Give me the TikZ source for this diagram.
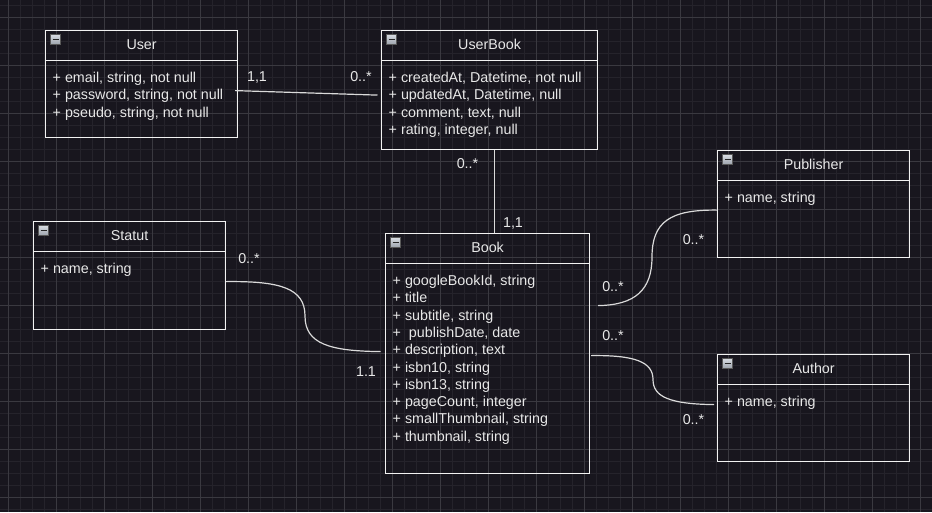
\documentclass[tikz,border=0pt]{standalone}
\usepackage{fontspec}
\setmainfont{Liberation Sans}
\usetikzlibrary{calc}
\definecolor{bgc}{HTML}{18161E}
\definecolor{gridminor}{HTML}{25232B}
\definecolor{gridmajor}{HTML}{3A3940}
\definecolor{boxline}{HTML}{F2F2F2}
\definecolor{txt}{HTML}{E8E8E8}
\definecolor{edgec}{HTML}{DADADA}
\definecolor{icontop}{HTML}{D8DCE2}
\definecolor{iconbot}{HTML}{9CA2AC}
\tikzset{
  classbox/.style={draw=boxline, line width=1.2pt, inner sep=0pt, anchor=north west},
  sepline/.style={draw=boxline, line width=1.2pt},
  ctitle/.style={text=txt, anchor=base, inner sep=0pt, font=\fontsize{14.3}{17}\selectfont},
  cattr/.style={text=txt, anchor=base west, inner sep=0pt, font=\fontsize{14.3}{17}\selectfont},
  mult/.style={text=txt, anchor=base, inner sep=0pt, font=\fontsize{14.3}{17}\selectfont},
  conn/.style={draw=edgec, line width=1.2pt},
  iconbox/.style={minimum size=10pt, inner sep=0pt, draw=gray!70!black, line width=0.6pt,
    top color=icontop, bottom color=iconbot,
    path picture={\draw[black!85, line width=1.4pt]
      ([xshift=2pt]path picture bounding box.west) -- ([xshift=-2pt]path picture bounding box.east);}}
}
\newcommand{\classdecor}[2]{%
  \draw[sepline] ([yshift=-30.5pt]#1.north west) -- ([yshift=-30.5pt]#1.north east);
  \node[ctitle] (#1-title) at ([yshift=-19.5pt]#1.north) {#2};
  \node[iconbox] (#1-icon) at ([xshift=10.5pt,yshift=-9.5pt]#1.north west) {};
}
\newcommand{\classattrs}[2]{%
  \foreach \t [count=\i] in {#2}
    \node[cattr] (#1-a\i) at ([xshift=7.5pt,yshift={-52.5pt-(\i-1)*17.3pt}]#1.north west) {\t};
}
\begin{document}
\begin{tikzpicture}[x=1pt,y=-1pt]
\useasboundingbox (0,0) rectangle (932,512);
\fill[bgc] (0,0) rectangle (932,512);
% grid
\foreach \x in {8,20,...,932} \draw[gridminor, line width=0.8pt] (\x,0) -- (\x,512);
\foreach \y in {5,17,...,512} \draw[gridminor, line width=0.8pt] (0,\y) -- (932,\y);
\foreach \x in {8,56,...,932} \draw[gridmajor, line width=0.9pt] (\x,0) -- (\x,512);
\foreach \y in {17,65,...,512} \draw[gridmajor, line width=0.9pt] (0,\y) -- (932,\y);

% classes
\node[classbox, minimum width=192pt, minimum height=107pt] (user) at (45,30) {};
\classdecor{user}{User}
\classattrs{user}{{+ email, string, not null},{+ password, string, not null},{+ pseudo, string, not null}}

\node[classbox, minimum width=216pt, minimum height=119pt] (userbook) at (381,30) {};
\classdecor{userbook}{UserBook}
\classattrs{userbook}{{+ createdAt, Datetime, not null},{+ updatedAt, Datetime, null},{+ comment, text, null},{+ rating, integer, null}}

\node[classbox, minimum width=192pt, minimum height=107pt] (publisher) at (717,150) {};
\classdecor{publisher}{Publisher}
\classattrs{publisher}{{+ name, string}}

\node[classbox, minimum width=192pt, minimum height=107pt] (author) at (717,354) {};
\classdecor{author}{Author}
\classattrs{author}{{+ name, string}}

\node[classbox, minimum width=192pt, minimum height=108pt] (statut) at (33,221) {};
\classdecor{statut}{Statut}
\classattrs{statut}{{+ name, string}}

\node[classbox, minimum width=204pt, minimum height=240pt] (book) at (385,233) {};
\classdecor{book}{Book}
\classattrs{book}{{+ googleBookId, string},{+ title},{+ subtitle, string},{+ \ publishDate, date},{+ description, text},{+ isbn10, string},{+ isbn13, string},{+ pageCount, integer},{+ smallThumbnail, string},{+ thumbnail, string}}

% connector end points
\coordinate (uE) at ([xshift=-3pt,yshift=-6.5pt]user.east);
\coordinate (ubW) at ([xshift=-3.5pt,yshift=-5pt]userbook.west);
\coordinate (ubS) at ([xshift=4.7pt]userbook.south);
\coordinate (bN) at ([xshift=6.7pt]book.north);
\coordinate (sE) at ([yshift=-6pt]statut.east);
\coordinate (bW) at ([xshift=-4.5pt,yshift=2pt]book.west);
\coordinate (bEp) at ([xshift=8pt,yshift=48pt]book.east);
\coordinate (pW) at ([yshift=-6pt]publisher.west);
\coordinate (bEa) at ([xshift=1pt,yshift=-2pt]book.east);
\coordinate (aW) at ([xshift=-3pt,yshift=3.5pt]author.west);

% connectors
\draw[conn] (uE) -- (ubW);
\draw[conn] (ubS) -- (bN);
\draw[conn] (sE) .. controls (280,281) and (305,288) .. (305,316)
                 .. controls (305,344) and (330,351) .. (bW);
\draw[conn] (bEp) .. controls (635,305) and (652,290) .. (652,257)
                  .. controls (652,222) and (670,209.5) .. (pW);
\draw[conn] (bEa) .. controls (635,355) and (653,362) .. (653,379.5)
                  .. controls (653,397) and (670,404) .. (aW);

% multiplicities
\node[mult] (m1) at (257,81.7) {1,1};
\node[mult] (m2) at (361,81.5) {0..*};
\node[mult] (m3) at (467.5,168) {0..*};
\node[mult] (m4) at (513,227) {1,1};
\node[mult] (m5) at (249,263) {0..*};
\node[mult] (m6) at (366,376) {1.1};
\node[mult] (m7) at (693.5,244) {0..*};
\node[mult] (m8) at (613,291.7) {0..*};
\node[mult] (m9) at (613,340) {0..*};
\node[mult] (m10) at (693.5,424) {0..*};
\end{tikzpicture}
\end{document}
